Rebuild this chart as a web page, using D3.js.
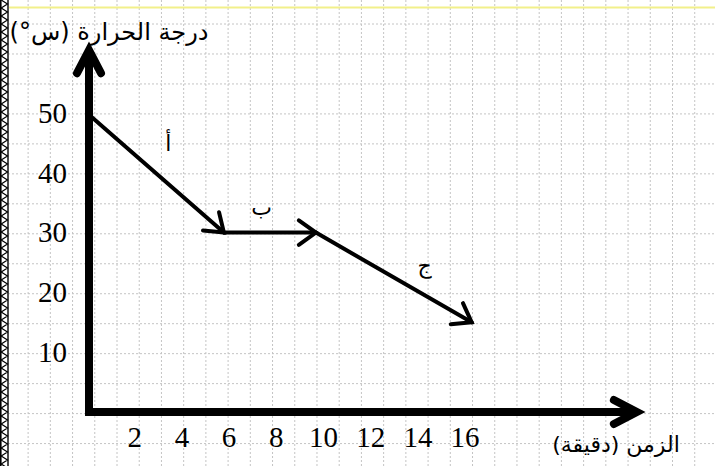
<!DOCTYPE html>
<html>
<head>
<meta charset="utf-8">
<script src="https://cdn.jsdelivr.net/npm/d3@7"></script>
<style>
  body { margin: 0; background: #fff; }
  svg { display: block; }
  .num { font-family: "Liberation Serif", "Times New Roman", Times, serif; }
  .ar { font-family: "DejaVu Sans", sans-serif; }
</style>
</head>
<body>
<div id="chart"></div>
<script>
const W = 715, H = 466;

// data
const timeMin = [0, 5.8, 9.7, 16.3];
const tempC = [50, 30, 30, 15];
const segLabels = ["أ", "ب", "ج"];
const segLabelX = [3.45, 7.4, 14.3];
const segLabelY = [45, 34.3, 24.5];
const xTicks = [2, 4, 6, 8, 10, 12, 14, 16];
const yTicks = [10, 20, 30, 40, 50];
const yTitle = "درجة الحرارة (س°)";
const xTitle = "الزمن (دقيقة)";

const svg = d3.select("#chart").append("svg")
    .attr("width", W)
    .attr("height", H);

// page background: dotted grid
const grid = svg.append("g").attr("stroke", "#c4c4c4").attr("stroke-width", 1)
    .attr("stroke-dasharray", "2,2");
d3.range(5.9, W, 22.22).forEach(gx => {
    grid.append("line").attr("x1", gx).attr("x2", gx).attr("y1", 0).attr("y2", H);
});
d3.range(24, H, 29.97).forEach(gy => {
    grid.append("line").attr("x1", 0).attr("x2", W).attr("y1", gy).attr("y2", gy);
});

// yellow rule at top
svg.append("line").attr("x1", 9).attr("x2", W).attr("y1", 7.5).attr("y2", 7.5)
    .attr("stroke", "#f2f08a").attr("stroke-width", 2);

// zigzag border on the left
svg.append("rect").attr("x", 0).attr("y", 0).attr("width", 9).attr("height", H).attr("fill", "#fff");
svg.append("line").attr("x1", 0.8).attr("x2", 0.8).attr("y1", 0).attr("y2", H)
    .attr("stroke", "#000").attr("stroke-width", 1.6);
svg.append("line").attr("x1", 8).attr("x2", 8).attr("y1", 0).attr("y2", H)
    .attr("stroke", "#000").attr("stroke-width", 1.4);
const zz = d3.range(0, H + 8, 4).map((zy, i) => [i % 2 ? 7.5 : 1.2, zy]);
svg.append("path").attr("d", d3.line()(zz)).attr("fill", "none")
    .attr("stroke", "#000").attr("stroke-width", 1.2);

const x = d3.scaleLinear().domain([0, 16]).range([87, 87 + 16 * 23.6]);
const y = d3.scaleLinear().domain([0, 50]).range([412, 412 - 50 * 5.98]);

// axis tick labels
const yAxis = svg.append("g")
    .attr("transform", "translate(67,0)")
    .call(d3.axisLeft(y).tickValues(yTicks).tickSize(0).tickPadding(0));
const xAxis = svg.append("g")
    .attr("transform", "translate(0,426)")
    .call(d3.axisBottom(x).tickValues(xTicks).tickSize(0).tickPadding(0));
[yAxis, xAxis].forEach(a => {
    a.attr("font-family", null).attr("font-size", null);
    a.select(".domain").remove();
    a.selectAll("text")
        .attr("class", "num")
        .style("font-size", "29px")
        .attr("fill", "#000");
});

// thick axes with open arrow heads
const axisX0 = x(0) + 2, axisY0 = y(0);
const yTop = y(60.5), xEnd = x(23.3);
svg.append("path")
    .attr("d", `M${axisX0},${axisY0 + 4} V${yTop + 3}`)
    .attr("stroke", "#000").attr("stroke-width", 8).attr("fill", "none");
svg.append("path")
    .attr("d", `M${axisX0 - 12},${yTop + 23} L${axisX0},${yTop} L${axisX0 + 12},${yTop + 23}`)
    .attr("stroke", "#000").attr("stroke-width", 8).attr("fill", "none")
    .attr("stroke-linecap", "round").attr("stroke-linejoin", "miter");
svg.append("path")
    .attr("d", `M${axisX0 - 4},${axisY0} H${xEnd - 3}`)
    .attr("stroke", "#000").attr("stroke-width", 8).attr("fill", "none");
svg.append("path")
    .attr("d", `M${xEnd - 23},${axisY0 - 12} L${xEnd},${axisY0} L${xEnd - 23},${axisY0 + 12}`)
    .attr("stroke", "#000").attr("stroke-width", 8).attr("fill", "none")
    .attr("stroke-linecap", "round").attr("stroke-linejoin", "miter");

// cooling curve segments, each ending in an arrow
const pts = timeMin.map((t, i) => [x(t), y(tempC[i])]);
const segs = svg.append("g");
for (let i = 0; i < pts.length - 1; i++) {
    const [x1, y1] = pts[i], [x2, y2] = pts[i + 1];
    segs.append("line")
        .attr("x1", x1).attr("y1", y1).attr("x2", x2).attr("y2", y2)
        .attr("stroke", "#000").attr("stroke-width", 4).attr("stroke-linecap", "round");
    const ang = Math.atan2(y2 - y1, x2 - x1) + Math.PI;
    const len = 21, spread = 0.62;
    const a1 = [x2 + len * Math.cos(ang - spread), y2 + len * Math.sin(ang - spread)];
    const a2 = [x2 + len * Math.cos(ang + spread), y2 + len * Math.sin(ang + spread)];
    segs.append("path")
        .attr("d", `M${a1[0]},${a1[1]} L${x2},${y2} L${a2[0]},${a2[1]}`)
        .attr("stroke", "#000").attr("stroke-width", 4).attr("fill", "none")
        .attr("stroke-linecap", "round").attr("stroke-linejoin", "miter");
}

// segment letters
svg.append("g").selectAll("text")
    .data(segLabels)
    .join("text")
    .attr("class", "ar")
    .attr("x", (d, i) => x(segLabelX[i]))
    .attr("y", (d, i) => y(segLabelY[i]))
    .attr("dy", "0.35em")
    .attr("text-anchor", "middle")
    .style("font-size", "22px")
    .text(d => d);

// axis titles
svg.append("text")
    .attr("class", "ar")
    .attr("x", 109).attr("y", 40)
    .attr("direction", "rtl")
    .attr("text-anchor", "middle")
    .style("font-size", "24px")
    .text(yTitle);
svg.append("text")
    .attr("class", "ar")
    .attr("x", 616).attr("y", 452)
    .attr("direction", "rtl")
    .attr("text-anchor", "middle")
    .style("font-size", "22px")
    .text(xTitle);
</script>
</body>
</html>
